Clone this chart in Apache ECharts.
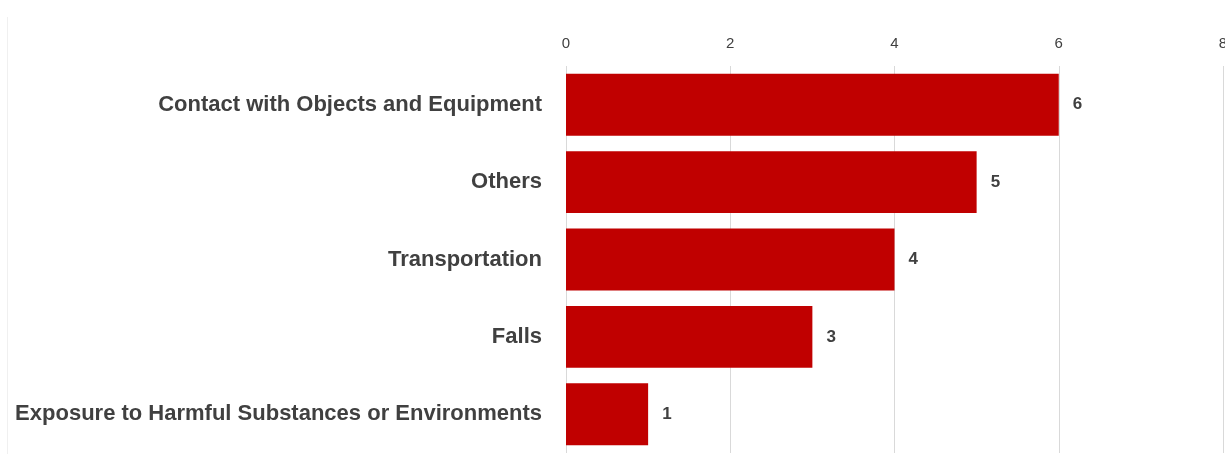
<!DOCTYPE html>
<html>
<head>
<meta charset="utf-8">
<script src="https://cdn.jsdelivr.net/npm/echarts@6/dist/echarts.min.js"></script>
<style>
  html, body { margin: 0; padding: 0; background: #ffffff; }
  #chart { width: 1225px; height: 454px; }
</style>
</head>
<body>
<div id="chart"></div>
<script>
// Incident categories, listed top to bottom
const categories = [
  'Contact with Objects and Equipment',
  'Others',
  'Transportation',
  'Falls',
  'Exposure to Harmful Substances or Environments'
];
const counts = [6, 5, 4, 3, 1];
const axisTicks = [0, 2, 4, 6, 8];

const FONT = '"Liberation Sans", Arial, sans-serif';
const TEXT = '#404040';

const chart = echarts.init(document.getElementById('chart'), null, { renderer: 'canvas' });

chart.setOption({
  backgroundColor: '#ffffff',
  animation: false,
  grid: {
    left: 566, right: 2, top: 66, bottom: 1,
    containLabel: false,
    outerBoundsMode: 'none'
  },
  xAxis: {
    type: 'value',
    position: 'top',
    min: axisTicks[0],
    max: axisTicks[axisTicks.length - 1],
    interval: axisTicks[1] - axisTicks[0],
    axisLine: { show: false },
    axisTick: { show: false },
    axisLabel: {
      margin: 15,
      color: TEXT,
      fontFamily: FONT,
      fontSize: 15
    },
    splitLine: { show: true, lineStyle: { color: '#D9D9D9', width: 1 } }
  },
  yAxis: {
    type: 'category',
    inverse: true,
    data: categories,
    axisLine: { show: false },
    axisTick: { show: false },
    axisLabel: {
      margin: 24,
      color: TEXT,
      fontFamily: FONT,
      fontWeight: 'bold',
      fontSize: 22
    }
  },
  series: [{
    type: 'bar',
    data: counts,
    barCategoryGap: '20%',
    itemStyle: { color: '#C00000' },
    label: {
      show: true,
      position: 'right',
      distance: 14,
      color: TEXT,
      fontFamily: FONT,
      fontWeight: 'bold',
      fontSize: 17
    }
  }],
  graphic: [{
    type: 'line',
    shape: { x1: 7.5, y1: 17, x2: 7.5, y2: 454 },
    style: { stroke: '#F0F0F0', lineWidth: 1 },
    silent: true
  }]
});
</script>
</body>
</html>
